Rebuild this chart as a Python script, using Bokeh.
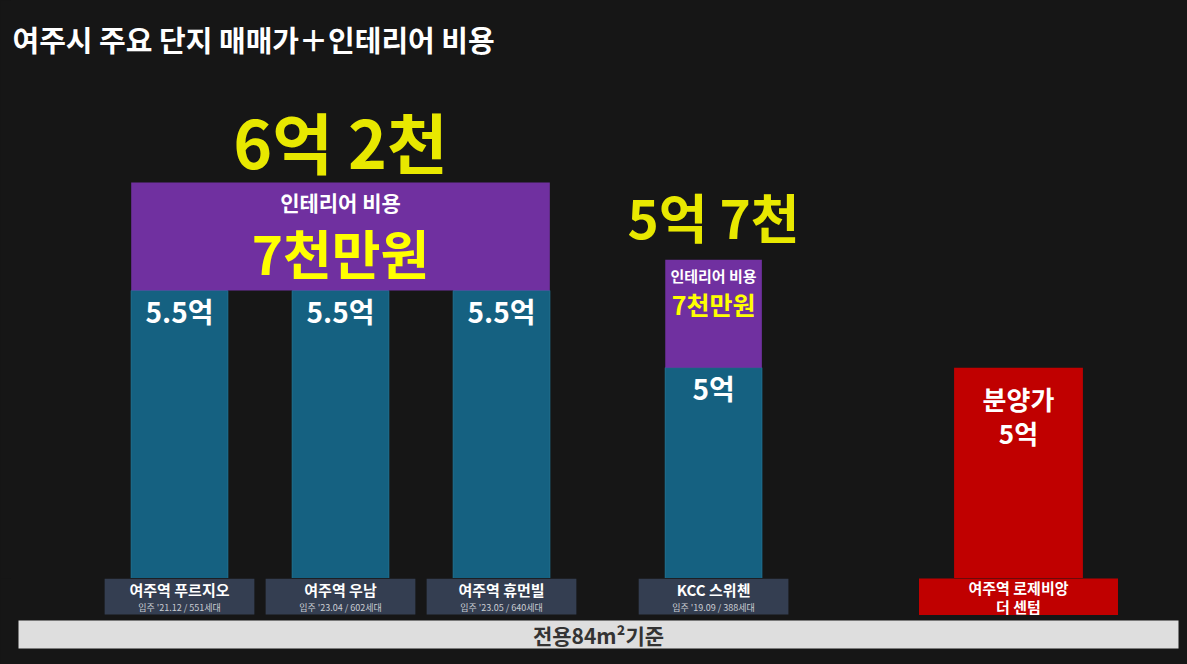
from bokeh.plotting import figure
from bokeh.models import FactorRange, Range1d, Label, BoxAnnotation
from bokeh.layouts import column
from bokeh.embed import file_html
from bokeh.resources import INLINE
from bokeh.core.properties import value

# ---------------- data ----------------
title_text = "여주시 주요 단지 매매가＋인테리어 비용"
apartments = ["여주역 푸르지오", "여주역 우남", "여주역 휴먼빌", "KCC 스위첸", "여주역 로제비앙 더 센텀"]
segments = ["신축", "신축", "신축", "구축", "분양"]
price_kind = ["매매가", "매매가", "매매가", "매매가", "분양가"]
move_in = ["입주 '21.12 / 551세대", "입주 '23.04 / 602세대", "입주 '23.05 / 640세대", "입주 '19.09 / 388세대", ""]
sale_price = [5.5, 5.5, 5.5, 5.0]          # 억, 매매가 (first four)
presale_price = [5.0]                       # 억, 분양가 (last)
interior_members = [[0, 1, 2], [3]]         # apartments sharing an interior-cost box
interior_cost = [0.7, 0.7]                  # 억
footnote = "전용84m²기준"

# ---------------- style ----------------
FONT = "Noto Sans CJK KR"
BG = "#161616"
BLUE = "#156181"
BLUE_EDGE = "#1f7394"
PURPLE = "#7030a0"
RED = "#c00000"
YELLOW = "#ffff00"
YELLOW_BIG = "#e8e800"
LABEL_BOX = "#343e51"
W, H_TOP, H_BOT = 1187, 578, 86
LEFT_BORDER = 10

factors = [(k, s, a) for k, s, a in zip(price_kind, segments, apartments)]
x_range = FactorRange(*factors, factor_padding=0.0, subgroup_padding=0.317,
                      group_padding=0.894, range_padding=0.177,
                      range_padding_units="percent")

def base_fig(height, y_range):
    f = figure(width=W, height=height, x_range=x_range, y_range=y_range,
               output_backend="svg", toolbar_location=None,
               x_axis_location=None, y_axis_location=None,
               min_border=0, min_border_left=LEFT_BORDER,
               background_fill_color=BG, border_fill_color=BG,
               outline_line_color=None)
    f.grid.visible = False
    return f

# top figure: value scale in 억
p = base_fig(H_TOP, Range1d(3.6335, 7.3795))

sale_x = factors[:4]
p.vbar(x=sale_x, top=sale_price, bottom=0, width=0.6,
       fill_color=BLUE, line_color=BLUE_EDGE, line_width=1)
p.text(x=sale_x, y=sale_price, text=[f"{v:g}억" for v in sale_price],
       y_offset=20, text_align="center", text_baseline="middle",
       text_color="white", text_font=value(FONT), text_font_style="bold",
       text_font_size="28px")

presale_x = factors[4:]
p.vbar(x=presale_x, top=presale_price, bottom=0, width=0.8,
       fill_color=RED, line_color=None)
p.text(x=presale_x, y=presale_price, text=["분양가"], y_offset=31,
       text_align="center", text_baseline="middle", text_color="white",
       text_font=value(FONT), text_font_style="bold", text_font_size="26px")
p.text(x=presale_x, y=presale_price, text=[f"{v:g}억" for v in presale_price],
       y_offset=65, text_align="center", text_baseline="middle",
       text_color="white", text_font=value(FONT), text_font_style="bold",
       text_font_size="26px")

# interior cost boxes (stacked on top of 매매가)
head_sizes = ["21px", "15px"]
amount_sizes = ["53px", "25px"]
head_off = [20, 16]
amount_off = [70, 44]
total_sizes = ["66px", "53px"]
total_off = [-42, -44]
half = 0.3
for members, cost, hs, ams, ho, ao, ts, to in zip(interior_members, interior_cost,
                                                   head_sizes, amount_sizes, head_off,
                                                   amount_off, total_sizes, total_off):
    first, last = members[0], members[-1]
    base = sale_price[first]
    total = base + cost
    p.quad(left=[factors[first] + (-half,)], right=[factors[last] + (half,)],
           bottom=[base], top=[total], fill_color=PURPLE, line_color=None)
    mid = factors[members[len(members) // 2]]
    p.text(x=[mid], y=[total], text=["인테리어 비용"], y_offset=ho,
           text_align="center", text_baseline="middle", text_color="white",
           text_font=value(FONT), text_font_style="bold", text_font_size=hs)
    p.text(x=[mid], y=[total], text=[f"{round(cost * 10)}천만원"], y_offset=ao,
           text_align="center", text_baseline="middle", text_color=YELLOW,
           text_font=value(FONT), text_font_style="bold", text_font_size=ams)
    eok = int(total + 1e-9)
    cheon = round((total - eok) * 10)
    p.text(x=[mid], y=[total], text=[f"{eok}억 {cheon}천"], y_offset=to,
           text_align="center", text_baseline="middle", text_color=YELLOW_BIG,
           text_font=value(FONT), text_font_style="bold", text_font_size=ts)

p.add_layout(Label(x=12, y=H_TOP - 38, x_units="canvas", y_units="screen",
                   text=title_text, text_color="white", text_font=FONT,
                   text_font_style="bold", text_font_size="29px",
                   text_baseline="middle", text_align="left"))

# bottom figure: name plates and footnote strip (pixel-like rows)
q = base_fig(H_BOT, Range1d(H_BOT, 0))
q.rect(x=sale_x, y=18, width=0.93, height=36, fill_color=LABEL_BOX, line_color=None)
q.text(x=sale_x, y=11, text=apartments[:4], text_align="center",
       text_baseline="middle", text_color="white", text_font=value(FONT),
       text_font_style="bold", text_font_size="15px")
q.text(x=sale_x, y=29, text=move_in[:4], text_align="center",
       text_baseline="middle", text_color="#c9ccd2", text_font=value(FONT),
       text_font_size="9px")

q.rect(x=presale_x, y=18, width=1.236, height=37, fill_color=RED, line_color=None)
words = apartments[4].split(" ")
q.text(x=presale_x, y=9, text=[" ".join(words[:2])], text_align="center",
       text_baseline="middle", text_color="white", text_font=value(FONT),
       text_font_style="bold", text_font_size="15px")
q.text(x=presale_x, y=28, text=[" ".join(words[2:])], text_align="center",
       text_baseline="middle", text_color="white", text_font=value(FONT),
       text_font_style="bold", text_font_size="15px")

q.add_layout(BoxAnnotation(left=18, right=1178, left_units="canvas", right_units="canvas",
                           top=42, bottom=70, fill_color="#dedede", fill_alpha=1.0,
                           line_color=None, level="underlay"))
q.add_layout(Label(x=598, y=56, x_units="canvas", y_units="data", text=footnote,
                   text_color="#333333", text_font=FONT, text_font_style="bold",
                   text_font_size="21px", text_align="center", text_baseline="middle"))

layout = column(p, q, spacing=0)
html = file_html(layout, INLINE)
html = html.replace("</head>", "<style>html,body{background:#161616;}</style></head>", 1)
open("out.html", "w").write(html)
